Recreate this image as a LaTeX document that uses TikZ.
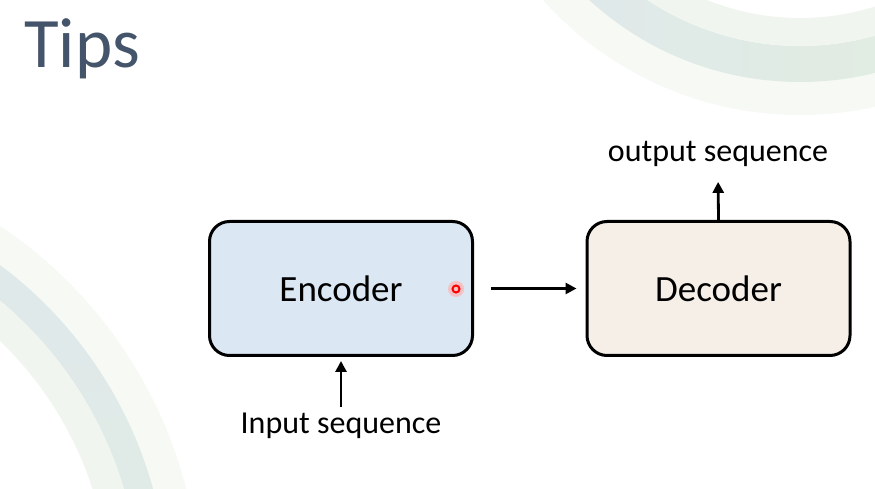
\documentclass[tikz,border=0pt]{standalone}
\usepackage{fontspec}
\setmainfont{Carlito}
\usetikzlibrary{positioning, arrows.meta}

\definecolor{titleblue}{HTML}{44546A}
\definecolor{encfill}{HTML}{DCE7F4}
\definecolor{decfill}{HTML}{F5EFE7}
\definecolor{arcblue}{HTML}{DFE8EC}
\definecolor{arcgreen}{HTML}{E2EEDC}
\definecolor{arcpale}{HTML}{F6F9F4}
\definecolor{arclight}{HTML}{F0F5EF}

\begin{document}
\begin{tikzpicture}[x=1pt, y=1pt,
    block/.style={draw, line width=3pt, rounded corners=20pt,
        minimum width=263pt, minimum height=134pt, inner sep=0pt,
        font=\fontsize{37}{40}\selectfont},
    lbl/.style={font=\fontsize{32}{35}\selectfont, inner sep=2pt},
    arr/.style={line width=2.8pt, -{Triangle[length=11pt, width=11pt]}}]
    \useasboundingbox (0,0) rectangle (875,489);

    % background arcs
    \begin{scope}
        \clip (0,0) rectangle (875,489);
        \fill[arcpale, even odd rule] (800,719) circle (345) circle (305);
        \shade[left color=arcblue, right color=arcgreen, even odd rule]
            (800,719) circle (312) circle (276);
        \fill[arclight, even odd rule] (800,719) circle (276) circle (248);
        \fill[arcpale, even odd rule] (-250,-111) circle (450) circle (418);
        \shade[top color=arcblue, bottom color=arcgreen, even odd rule]
            (-250,-111) circle (418) circle (390);
        \fill[arclight, even odd rule] (-250,-111) circle (390) circle (360);
    \end{scope}

    \node[anchor=base west, text=titleblue, inner sep=0pt,
        font=\fontsize{71}{73}\selectfont] (title) at (24,421) {Tips};

    \node[block, fill=encfill] (enc) at (341,200.5) {Encoder};
    \node[block, fill=decfill] (dec) at (718.5,200.5) {Decoder};

    \node[lbl] (inp) at (341,63) {Input sequence};
    \node[lbl] (out) at (718,335) {output sequence};

    \draw[arr, shorten <=17pt, shorten >=9pt] (enc.east) -- (dec.west);
    \draw[arr, shorten <=4pt, shorten >=4pt] (inp.north) -- (enc.south);
    \draw[arr, shorten >=13pt] (dec.north) -- (out.south);

    % pointer dot
    \fill[red!30, opacity=0.7] (456,200) circle (8);
    \draw[red, line width=2pt] (456,200) circle (3.5);
\end{tikzpicture}
\end{document}
